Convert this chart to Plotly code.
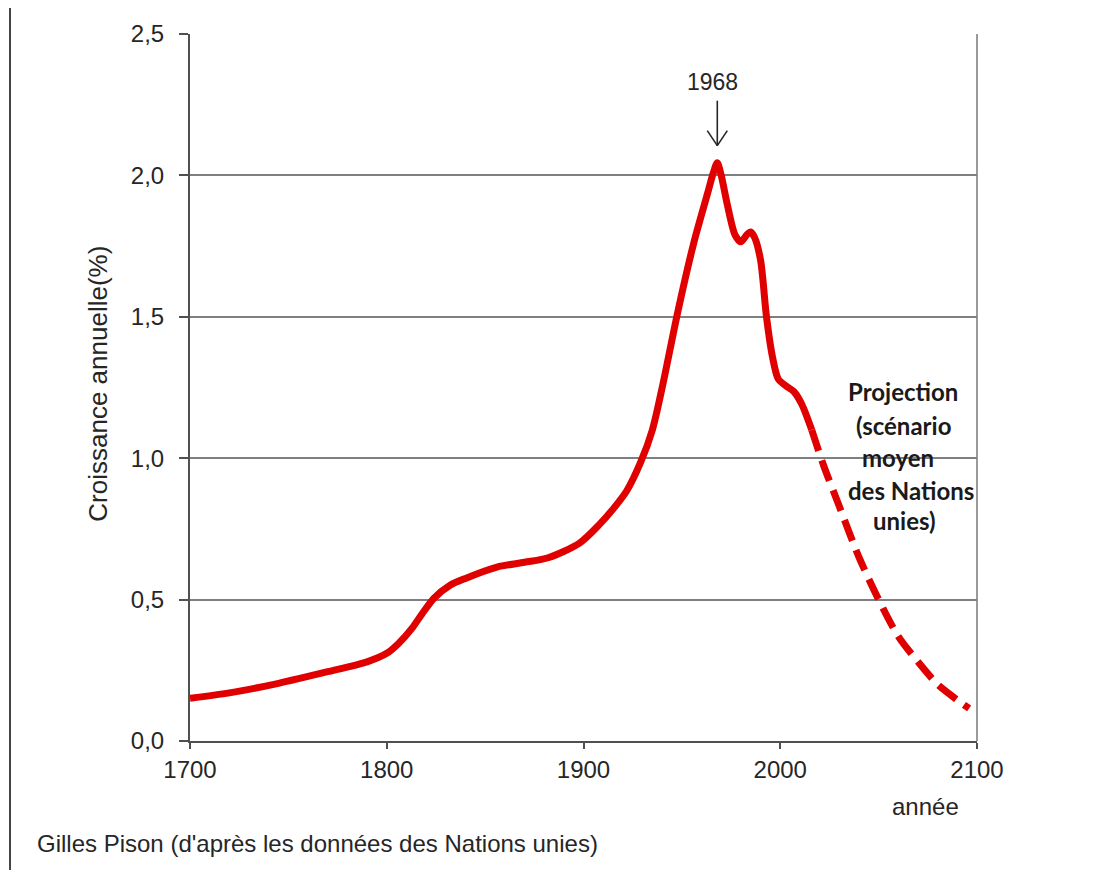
import plotly.graph_objects as go

# ---- data ----
hist_years = [1700, 1720, 1745, 1770, 1790, 1800, 1806, 1813, 1818, 1824, 1832, 1840,
              1856, 1870, 1882, 1898, 1908, 1915, 1922, 1929, 1935, 1940, 1948, 1956,
              1963, 1966, 1968, 1970, 1973, 1977, 1980, 1983, 1985, 1987, 1990, 1993,
              1996, 1999, 2003, 2007, 2011, 2016]
hist_growth = [0.151, 0.170, 0.204, 0.245, 0.280, 0.310, 0.345, 0.400, 0.450, 0.505, 0.550, 0.575,
               0.615, 0.632, 0.648, 0.700, 0.765, 0.820, 0.885, 0.985, 1.100, 1.250, 1.520, 1.760,
               1.935, 2.010, 2.045, 2.000, 1.900, 1.790, 1.765, 1.790, 1.800, 1.780, 1.700, 1.500,
               1.360, 1.280, 1.255, 1.235, 1.190, 1.100]

proj_years = [2016, 2022, 2030, 2040, 2050, 2060, 2070, 2080, 2090, 2096]
proj_growth = [1.100, 0.975, 0.830, 0.650, 0.500, 0.370, 0.280, 0.200, 0.145, 0.115]

x_ticks = [1700, 1800, 1900, 2000, 2100]
y_ticks = [0.0, 0.5, 1.0, 1.5, 2.0, 2.5]

y_title = "Croissance annuelle(%)"
x_title = "année"
source = "Gilles Pison (d'après les données des Nations unies)"
peak_label = "1968"
proj_lines = ["Projection", "(scénario", "moyen", "des Nations", "unies)"]

RED = "#E00000"
TXT = "#262626"
GRID = "#7F7F7F"
FONT = "Liberation Sans, Arial, sans-serif"

fig = go.Figure()
fig.add_trace(go.Scatter(x=hist_years, y=hist_growth, mode="lines",
                         line=dict(color=RED, width=7, shape="spline", smoothing=0.8),
                         hoverinfo="skip", showlegend=False))
fig.add_trace(go.Scatter(x=proj_years, y=proj_growth, mode="lines",
                         line=dict(color=RED, width=7, shape="spline", smoothing=0.8, dash="22px,10px"),
                         hoverinfo="skip", showlegend=False))

peak_i = hist_growth.index(max(hist_growth))
peak_year = hist_years[peak_i]
peak_val = hist_growth[peak_i]

shapes = []
# arrow pointing at the peak (pixel offsets relative to the peak point)
for (px0, py0, px1, py1) in [(0, 62, 0, 17), (-10, 32, 0, 17), (10, 32, 0, 17)]:
    shapes.append(dict(type="line", xref="x", yref="y",
                       xsizemode="pixel", ysizemode="pixel",
                       xanchor=peak_year, yanchor=peak_val,
                       x0=px0, y0=py0, x1=px1, y1=py1,
                       line=dict(color=TXT, width=1.6)))
# right border of plot area
shapes.append(dict(type="line", xref="paper", yref="paper", x0=1, x1=1, y0=0, y1=1,
                   line=dict(color="#9A9A9A", width=2), layer="below"))
# left border line of the whole picture
shapes.append(dict(type="line", xref="paper", yref="paper", x0=-0.2287, x1=-0.2287,
                   y0=-0.19, y1=1.05, line=dict(color="#444444", width=2)))

annotations = [
    dict(text=peak_label, x=peak_year, y=2.331, xref="x", yref="y", xshift=-5,
         xanchor="center", yanchor="middle",
         showarrow=False, font=dict(family=FONT, size=23, color=TXT)),
    dict(text=y_title, x=-0.118, y=0.5056, xref="paper", yref="paper", textangle=-90,
         xanchor="center", yanchor="middle",
         showarrow=False, font=dict(family=FONT, size=26, color=TXT)),
    dict(text=x_title, x=0.935, y=-0.0927, xref="paper", yref="paper",
         xanchor="center", yanchor="middle",
         showarrow=False, font=dict(family=FONT, size=24, color=TXT)),
    dict(text=source, x=-0.197, y=-0.1447, xref="paper", yref="paper",
         xanchor="left", yanchor="middle",
         showarrow=False, font=dict(family=FONT, size=24, color=TXT)),
]
proj_pos = [(2062.4, 1.236), (2062.4, 1.117), (2059.6, 1.001), (2066.7, 0.885), (2063.2, 0.780)]
for t, (xx, yy) in zip(proj_lines, proj_pos):
    annotations.append(dict(text="<b>" + t + "</b>", x=xx, y=yy, xref="x", yref="y",
                            xanchor="center", yanchor="middle", showarrow=False,
                            font=dict(family="Lato, Carlito, sans-serif", size=24, color="#1a1a1a")))

fig.update_layout(
    width=1097, height=862, autosize=False,
    margin=dict(l=182, r=128, t=15, b=129),
    paper_bgcolor="white", plot_bgcolor="white",
    separators=", ",
    font=dict(family=FONT, color=TXT, size=24),
    shapes=shapes, annotations=annotations,
    xaxis=dict(range=[1700, 2100], tickvals=x_ticks, ticktext=[str(v) for v in x_ticks],
               showgrid=False, zeroline=False, showline=True, linecolor="#505050", linewidth=2,
               ticks="outside", ticklen=6, tickcolor="#505050", tickwidth=1.5,
               tickfont=dict(family=FONT, size=24, color=TXT)),
    yaxis=dict(range=[0, 2.5], tickvals=y_ticks, tickformat=".1f",
               showgrid=True, gridcolor=GRID, gridwidth=1.6, zeroline=False,
               showline=True, linecolor="#505050", linewidth=2,
               ticks="outside", ticklen=9, tickcolor="#505050", tickwidth=1.5,
               ticklabelstandoff=10,
               tickfont=dict(family=FONT, size=24, color=TXT)),
)

fig.write_html("out.html")
